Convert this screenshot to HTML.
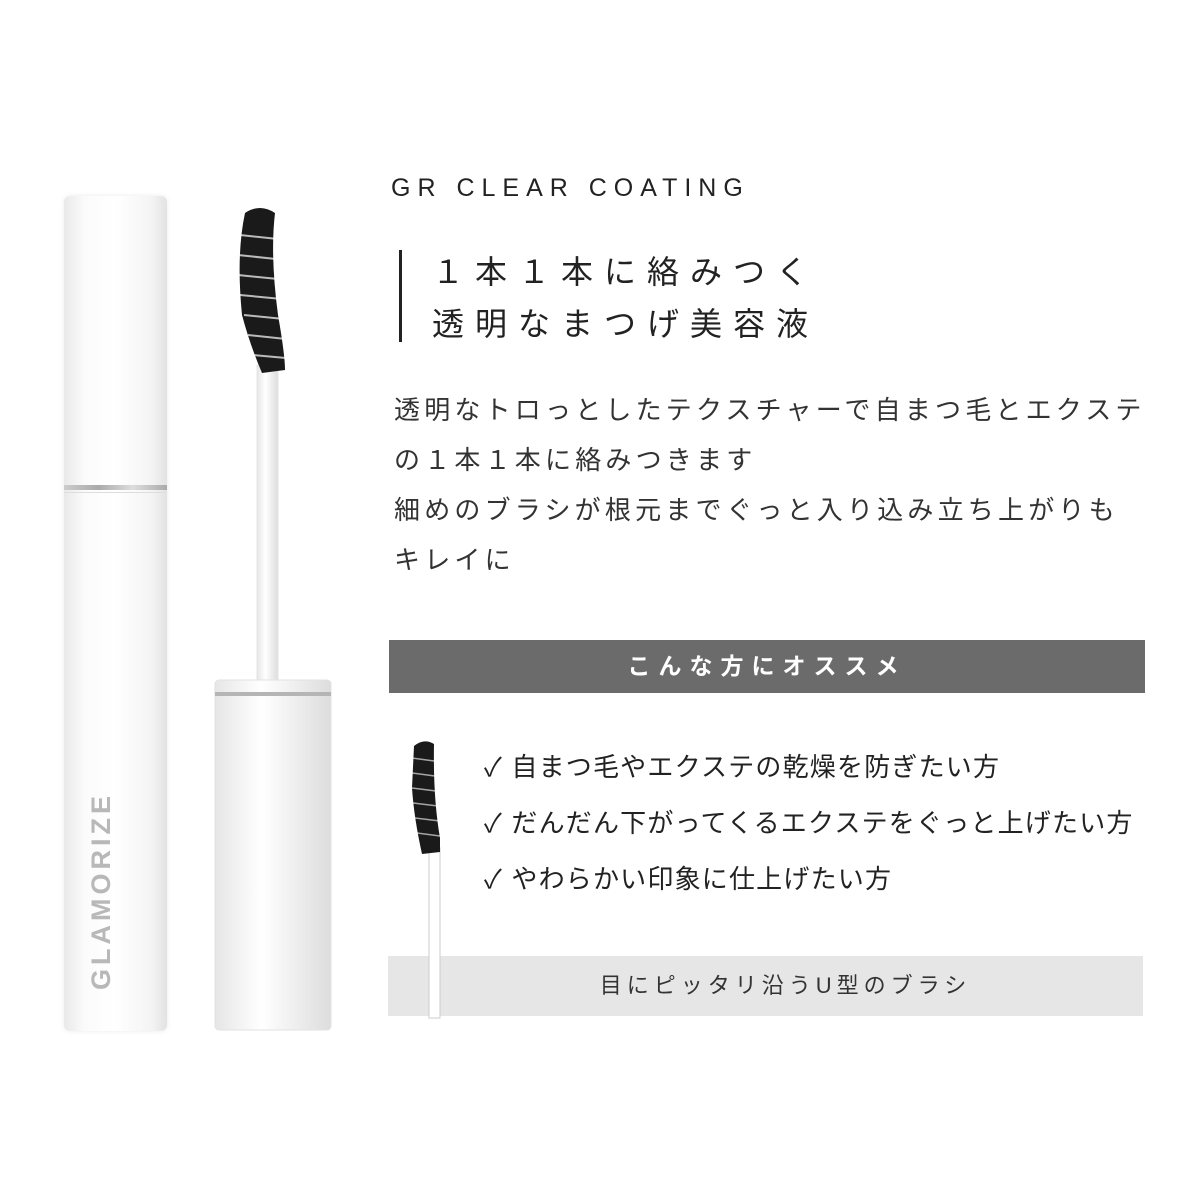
<!DOCTYPE html>
<html><head><meta charset="utf-8"><style>
body{margin:0;width:1200px;height:1200px;background:#fff;position:relative;overflow:hidden;font-family:"Liberation Sans","Noto Sans CJK JP",sans-serif;color:#333}
.a{position:absolute;white-space:nowrap}
</style></head><body>
<!-- left tube -->
<div class="a" style="left:64px;top:196px;width:103px;height:835px;background:linear-gradient(90deg,#e9e9e9,#fbfbfb 20%,#fff 50%,#f4f4f4 85%,#e2e2e2);border-radius:6px;box-shadow:0 0 6px rgba(0,0,0,.08)"></div>
<div class="a" style="left:64px;top:485px;width:103px;height:5px;background:linear-gradient(90deg,#ccc,#aaa,#ddd,#aaa)"></div>
<div class="a" style="left:64px;top:492px;width:103px;height:1px;background:#ddd"></div>
<div class="a" style="left:86px;top:990px;transform:rotate(-90deg);transform-origin:0 0;font-size:27px;letter-spacing:4px;color:#b8b8b8;font-weight:bold">GLAMORIZE</div>
<!-- wand -->
<svg class="a" style="left:200px;top:195px" width="150" height="840">
<defs><linearGradient id="g" x1="0" x2="1"><stop offset="0" stop-color="#e6e6e6"/><stop offset=".4" stop-color="#fff"/><stop offset="1" stop-color="#ddd"/></linearGradient></defs>
<rect x="57" y="170" width="21" height="500" fill="url(#g)" stroke="#e4e4e4"/>
<path d="M45 18 Q60 8 75 18 Q70 60 78 120 Q85 160 85 175 L62 178 Q50 150 42 120 Q36 60 45 18Z" fill="#1a1a1a"/>
<g stroke="#fff" stroke-width="2" opacity=".7"><path d="M40 40l38 4M38 60l38 4M38 80l40 4M40 100l42 4M44 120l40 4M48 140l38 4M52 160l34 3"/></g>
<rect x="15" y="485" width="116" height="350" rx="4" fill="url(#g)" stroke="#e2e2e2"/>
<rect x="15" y="497" width="116" height="4" fill="#b5b5b5"/>
</svg>
<!-- right text -->
<div class="a" style="left:391px;top:174px;font-size:25px;letter-spacing:7px;color:#222">GR CLEAR COATING</div>
<div class="a" style="left:399px;top:250px;width:3px;height:92px;background:#222"></div>
<div class="a" style="left:432px;top:246px;font-size:32px;letter-spacing:11px;line-height:52px;color:#222">１本１本に絡みつく<br>透明なまつげ美容液</div>
<div class="a" style="left:394px;top:385px;font-size:26px;line-height:50px;color:#333;letter-spacing:4.2px">透明なトロっとしたテクスチャーで自まつ毛とエクステ<br>の１本１本に絡みつきます<br>細めのブラシが根元までぐっと入り込み立ち上がりも<br>キレイに</div>
<div class="a" style="left:389px;top:640px;width:756px;height:53px;background:#6b6b6b;color:#fff;font-size:23px;letter-spacing:8px;text-align:center;line-height:53px;font-weight:bold">こんな方にオススメ</div>
<div class="a" style="left:484px;top:739px;font-size:26px;line-height:56px;color:#222;letter-spacing:1.2px">✓ 自まつ毛やエクステの乾燥を防ぎたい方<br>✓ だんだん下がってくるエクステをぐっと上げたい方<br>✓ やわらかい印象に仕上げたい方</div>
<div class="a" style="left:388px;top:956px;width:755px;height:60px;background:#e6e6e6;color:#333;font-size:22px;letter-spacing:5px;text-align:center;line-height:60px;text-indent:40px">目にピッタリ沿うU型のブラシ</div>
<svg class="a" style="left:400px;top:738px" width="50" height="282">
<rect x="29" y="110" width="11" height="170" fill="#fff" stroke="#ccc"/>
<path d="M14 8 Q24 0 34 6 Q33 60 40 100 L40 114 L22 116 Q14 80 12 50Z" fill="#1a1a1a"/>
<g stroke="#fff" stroke-width="1.5" opacity=".6"><path d="M12 20l22 3M12 35l23 3M12 50l24 3M13 65l25 3M15 80l25 3M17 95l23 3"/></g>
</svg>
</body></html>
